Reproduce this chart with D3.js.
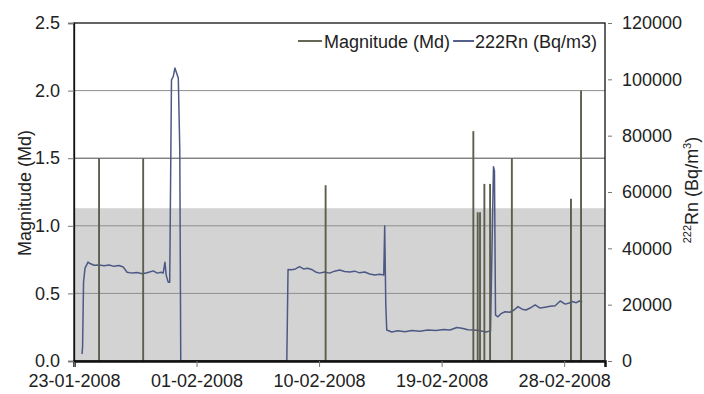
<!DOCTYPE html>
<html>
<head>
<meta charset="utf-8">
<script src="https://cdn.jsdelivr.net/npm/d3@7"></script>
<style>
  body { margin: 0; background: #fff; }
  text { font-family: Arial, "Liberation Sans", sans-serif; }
</style>
</head>
<body>
<div id="chart"></div>
<script>
// Chart data
var tickDates = ["23-01-2008", "01-02-2008", "10-02-2008", "19-02-2008", "28-02-2008"];
var magTicks = [0, 0.5, 1.0, 1.5, 2.0, 2.5];
var rnTicks = [0, 20000, 40000, 60000, 80000, 100000, 120000];
var bandTop = 1.13; // grey band, in magnitude units

// earthquakes: days after 23-01-2008, magnitude
var quakeDays = [1.84, 5.08, 18.48, 29.33, 29.65, 29.82, 30.14, 30.56, 32.16, 36.5, 37.24];
var quakeMag = [1.5, 1.5, 1.3, 1.7, 1.1, 1.1, 1.31, 1.31, 1.5, 1.2, 2.0];

// radon: days after 23-01-2008, Bq/m3
var rnDays = [0.59, 0.63, 0.70, 0.81, 1.03, 1.18, 1.47, 1.84, 2.21, 2.58, 2.94, 3.31, 3.61, 3.90,
  4.27, 4.64, 5.01, 5.37, 5.82, 6.11, 6.41, 6.55, 6.68, 6.77, 6.92, 7.03, 7.16, 7.29, 7.41, 7.51,
  7.66, 7.77, 7.84, 15.63, 15.72, 15.98, 16.27, 16.56, 16.86, 17.15, 17.45, 17.74, 18.04, 18.40,
  18.77, 19.14, 19.51, 19.88, 20.25, 20.61, 20.98, 21.35, 21.72, 22.09, 22.45, 22.75, 22.82, 22.90,
  22.97, 23.34, 23.78, 24.30, 24.81, 25.40, 25.99, 26.58, 27.17, 27.61, 28.12, 28.49, 28.93, 29.37,
  29.82, 30.26, 30.59, 30.81, 30.88, 30.96, 31.14, 31.36, 31.66, 32.02, 32.32, 32.61, 32.91, 33.20,
  33.50, 33.87, 34.23, 34.60, 34.97, 35.34, 35.71, 36.08, 36.37, 36.59, 36.89, 37.11, 37.33];
var rnValues = [2500, 5000, 28000, 33000, 35100, 34600, 34000, 34100, 33800, 34100, 33600, 33900, 33400, 31500,
  31200, 31400, 31000, 31300, 32000, 31200, 31500, 31200, 35100, 30500, 28000, 28000, 99800, 101000, 104000, 102600,
  100500, 75000, 0, 0, 32500, 32400, 32700, 33500, 32700, 32900, 32500, 31600, 31200, 31600,
  31200, 31900, 32300, 31800, 31600, 31900, 31300, 31600, 30900, 30500, 30800, 30500, 47900, 20000,
  11000, 10300, 10700, 10400, 10800, 10600, 11000, 10800, 11200, 11000, 11900, 11600, 11100, 11000,
  10700, 10300, 10700, 69000, 67500, 16300, 15700, 16800, 17500, 17300, 18100, 19300, 18400, 18100,
  18800, 19900, 18800, 19100, 19400, 19600, 21300, 20200, 20600, 21100, 20700, 21300, 20900];

var svgWidth = 704;
var svgHeight = 394;
var margin = { top: 23, right: 99, bottom: 33, left: 74 };
var width = svgWidth - margin.left - margin.right;
var height = svgHeight - margin.top - margin.bottom;

var magColor = "#5e5e4e";
var rnColor = "#4d5985";

var parseDate = d3.timeParse("%d-%m-%Y");
var startDate = parseDate("23-01-2008");
var endDate = parseDate("02-03-2008");
function dayToDate(d) { return d3.timeMinute.offset(startDate, Math.round(d * 1440)); }

var svg = d3.select("#chart").append("svg")
    .attr("width", svgWidth)
    .attr("height", svgHeight);

var chartGroup = svg.append("g")
    .attr("transform", `translate(${margin.left}, ${margin.top})`);

// Scales
var xScale = d3.scaleTime().domain([startDate, endDate]).range([0, width]);
var yMag = d3.scaleLinear().domain([0, 2.5]).range([height, 0]);
var yRn = d3.scaleLinear().domain([0, 120000]).range([height, 0]);

// Grey band
chartGroup.append("rect")
    .attr("x", 0)
    .attr("y", yMag(bandTop))
    .attr("width", width)
    .attr("height", height - yMag(bandTop))
    .attr("fill", "#d3d3d3");

// Gridlines
chartGroup.selectAll("line.grid")
    .data(magTicks.filter(d => d > 0 && d < 2.5))
    .enter()
    .append("line")
    .attr("class", "grid")
    .attr("x1", 0).attr("x2", width)
    .attr("y1", d => yMag(d)).attr("y2", d => yMag(d))
    .attr("stroke", d => d === 1.5 ? "#4a4a4a" : "#8f8f8f")
    .attr("stroke-width", 1);

// Radon line
var rnPoints = rnDays.map((d, i) => ({ date: dayToDate(d), value: rnValues[i] }));
var rnLine = d3.line()
    .x(d => xScale(d.date))
    .y(d => yRn(d.value));

chartGroup.append("path")
    .datum(rnPoints)
    .attr("fill", "none")
    .attr("stroke", rnColor)
    .attr("stroke-width", 1.5)
    .attr("stroke-linejoin", "round")
    .attr("d", rnLine);

// Magnitude stems
var quakes = quakeDays.map((d, i) => ({ date: dayToDate(d), mag: quakeMag[i] }));
chartGroup.selectAll("line.quake")
    .data(quakes)
    .enter()
    .append("line")
    .attr("class", "quake")
    .attr("x1", d => xScale(d.date)).attr("x2", d => xScale(d.date))
    .attr("y1", height).attr("y2", d => yMag(d.mag))
    .attr("stroke", magColor)
    .attr("stroke-width", 1.9);

// Frame
chartGroup.append("rect")
    .attr("x", 0).attr("y", 0)
    .attr("width", width).attr("height", height)
    .attr("fill", "none")
    .attr("stroke", "#111")
    .attr("stroke-width", 1.3);

// Axes
var bottomAxis = d3.axisBottom(xScale)
    .tickValues(tickDates.map(parseDate))
    .tickFormat(d3.timeFormat("%d-%m-%Y"))
    .tickSize(6).tickPadding(7);
var leftAxis = d3.axisLeft(yMag)
    .tickValues(magTicks)
    .tickFormat(d3.format(".1f"))
    .tickSize(6).tickPadding(8);
var rightAxis = d3.axisRight(yRn)
    .tickValues(rnTicks)
    .tickFormat(d3.format("d"))
    .tickSize(7).tickPadding(10);

var xAxisG = chartGroup.append("g")
    .attr("transform", `translate(0, ${height})`)
    .call(bottomAxis);
var leftAxisG = chartGroup.append("g").call(leftAxis);
var rightAxisG = chartGroup.append("g")
    .attr("transform", `translate(${width}, 0)`)
    .call(rightAxis);

[xAxisG, leftAxisG, rightAxisG].forEach(g => {
    g.selectAll("text").attr("font-size", "18px").attr("fill", "#222").attr("font-family", "Arial, 'Liberation Sans', sans-serif");
    g.selectAll(".tick line").attr("stroke", "#777");
});
xAxisG.select(".domain").attr("stroke", "#111").attr("stroke-width", 2.5);
leftAxisG.select(".domain").attr("stroke", "#111").attr("stroke-width", 1.3);
rightAxisG.select(".domain").remove();
rightAxisG.selectAll(".tick line").attr("x1", 3);

// Axis titles
chartGroup.append("text")
    .attr("transform", `translate(${-margin.left + 31}, ${height / 2 + 1}) rotate(-90)`)
    .attr("text-anchor", "middle")
    .attr("font-size", "18px")
    .attr("fill", "#222")
    .text("Magnitude (Md)");

var rnTitle = chartGroup.append("text")
    .attr("transform", `translate(${width + 93}, ${height / 2 - 2}) rotate(-90)`)
    .attr("text-anchor", "middle")
    .attr("font-size", "18px")
    .attr("fill", "#222");
rnTitle.append("tspan").attr("font-size", "11px").attr("dy", "-7").text("222");
rnTitle.append("tspan").attr("dy", "7").text("Rn (Bq/m");
rnTitle.append("tspan").attr("font-size", "11px").attr("dy", "-7").text("3");
rnTitle.append("tspan").attr("dy", "7").text(")");

// Legend
var legend = chartGroup.append("g").attr("transform", `translate(${224}, 18)`);
legend.append("line")
    .attr("x1", 0).attr("x2", 24).attr("y1", 0).attr("y2", 0)
    .attr("stroke", magColor).attr("stroke-width", 1.9);
var t1 = legend.append("text")
    .attr("x", 26).attr("y", 6.5)
    .attr("font-size", "18px").attr("fill", "#222")
    .text("Magnitude (Md)");
var x2 = 26 + t1.node().getComputedTextLength() + 3;
legend.append("line")
    .attr("x1", x2).attr("x2", x2 + 21).attr("y1", 0).attr("y2", 0)
    .attr("stroke", rnColor).attr("stroke-width", 1.9);
legend.append("text")
    .attr("x", x2 + 22).attr("y", 6.5)
    .attr("font-size", "18px").attr("fill", "#222")
    .text("222Rn (Bq/m3)");
</script>
</body>
</html>
